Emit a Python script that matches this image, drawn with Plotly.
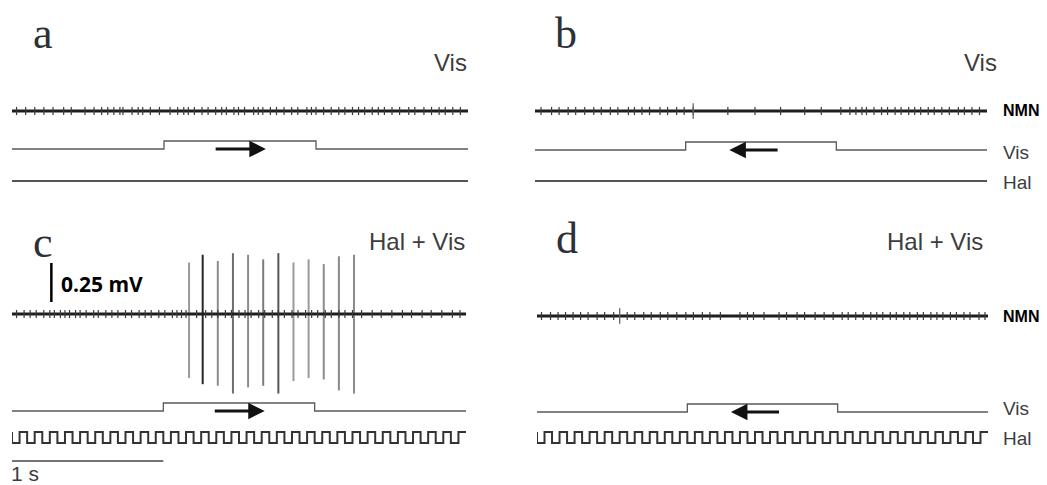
import plotly.graph_objects as go

W, H = 1047, 485
DURATION_S = 3.0

# ---------------- data ----------------
panel_letters = ["a", "b", "c", "d"]
panel_titles = ["Vis", "Vis", "Hal + Vis", "Hal + Vis"]
vis_direction = ["right", "left", "right", "left"]
vis_on_s = [1.0, 1.0, 1.0, 1.0]
vis_off_s = [2.0, 2.0, 2.0, 2.0]
hal_freq_hz = [0, 0, 10, 10]          # 0 = Hal stimulus off (flat trace)
right_labels = ["NMN", "Vis", "Hal"]

# small background deflections on the NMN recording (s)
nmn_ticks_a = [0.03, 0.09, 0.15, 0.21, 0.27, 0.34, 0.39, 0.48, 0.54, 0.59, 0.63, 0.67,
               0.71, 0.73, 0.79, 0.83, 0.86, 0.91, 0.97, 1.04, 1.09, 1.13, 1.16, 1.20,
               1.25, 1.29, 1.34, 1.38, 1.41, 1.46, 1.49, 1.53, 1.59, 1.62, 1.65, 1.70,
               1.74, 1.79, 1.84, 1.88, 1.94, 1.97, 2.00, 2.05, 2.10, 2.15, 2.19, 2.24,
               2.28, 2.32, 2.37, 2.41, 2.45, 2.50, 2.55, 2.61, 2.65, 2.71, 2.76, 2.81,
               2.85, 2.90, 2.95]
nmn_ticks_b = [0.04, 0.11, 0.16, 0.22, 0.27, 0.33, 0.39, 0.44, 0.50, 0.55, 0.62, 0.66,
               0.71, 0.76, 0.83, 0.88, 0.94, 0.99, 1.05, 1.28, 1.46, 1.63, 1.79, 1.90,
               2.03, 2.09, 2.13, 2.17, 2.20, 2.25, 2.30, 2.34, 2.39, 2.43, 2.48, 2.52,
               2.56, 2.61, 2.65, 2.70, 2.75, 2.81, 2.85, 2.90, 2.95]
nmn_ticks_c = [0.03, 0.08, 0.12, 0.16, 0.21, 0.25, 0.28, 0.32, 0.35, 0.38, 0.42, 0.45,
               0.49, 0.54, 0.57, 0.62, 0.66, 0.70, 0.75, 0.79, 0.84, 0.88, 0.92, 0.97,
               1.01, 1.06, 1.09, 1.12, 1.15, 1.22, 1.28, 1.32, 1.36, 1.41, 1.45, 1.50,
               1.54, 1.58, 1.63, 1.67, 1.72, 1.76, 1.80, 1.85, 1.89, 1.94, 1.98, 2.02,
               2.07, 2.11, 2.16, 2.20, 2.25, 2.31, 2.38, 2.44, 2.51, 2.58, 2.64, 2.71,
               2.77, 2.84, 2.91, 2.96]
nmn_ticks_d = [0.03, 0.09, 0.14, 0.19, 0.24, 0.29, 0.34, 0.40, 0.45, 0.51, 0.60, 0.65,
               0.71, 0.76, 0.82, 0.87, 0.93, 0.99, 1.04, 1.10, 1.15, 1.22, 1.35, 1.40,
               1.44, 1.51, 1.61, 1.66, 1.73, 1.78, 1.85, 1.91, 1.97, 2.03, 2.07, 2.12,
               2.17, 2.22, 2.26, 2.30, 2.35, 2.39, 2.44, 2.48, 2.53, 2.57, 2.62, 2.66,
               2.70, 2.75, 2.79, 2.84, 2.88, 2.94, 2.98]
nmn_ticks = [nmn_ticks_a, nmn_ticks_b, nmn_ticks_c, nmn_ticks_d]
nmn_tick_mv = 0.026
nmn_big_ticks = [[], [1.05], [], [0.55]]
nmn_big_tick_mv = 0.05

# large NMN spikes in panel c (Hal + Vis, preferred direction)
spike_times_c = [1.17, 1.26, 1.36, 1.46, 1.56, 1.66, 1.76, 1.86, 1.96, 2.06, 2.16, 2.26]
spike_up_mv_c = [0.33, 0.38, 0.34, 0.39, 0.38, 0.35, 0.39, 0.33, 0.35, 0.32, 0.37, 0.38]
spike_down_mv_c = [0.41, 0.45, 0.46, 0.51, 0.47, 0.46, 0.51, 0.43, 0.41, 0.42, 0.49, 0.51]

scale_bar_mv = 0.25
scale_bar_s = 1.0

# ---------------- geometry & style ----------------
PX_PER_MV = 156.0
geom = [  # pixel geometry of each panel
    dict(x0=12, x1=468, top=85, bottom=200, base=111, vis=149, hal=181),
    dict(x0=535, x1=987, top=85, bottom=200, base=111, vis=150, hal=181),
    dict(x0=12, x1=466, top=240, bottom=485, base=314, vis=411, hal=437.5),
    dict(x0=537, x1=988, top=240, bottom=485, base=316, vis=412, hal=437.5),
]
STEP_PX = 8.0
HAL_HALF_PX = 5.5
spike_shade = ["#9a9a9a", "#262626", "#8c8c8c", "#6e6e6e", "#8c8c8c", "#7a7a7a",
               "#555555", "#9a9a9a", "#9a9a9a", "#8c8c8c", "#888888", "#8c8c8c"]
TEXT_GREY = "#3d3d3d"
SANS = "Liberation Sans, Arial, sans-serif"
SERIF = "Liberation Serif, Times New Roman, serif"

fig = go.Figure()
layout = dict(width=W, height=H, margin=dict(l=0, r=0, t=0, b=0),
              paper_bgcolor="white", plot_bgcolor="white", showlegend=False)
annotations = []


def px_x(p):
    return p / W


def px_y(p):
    return 1 - p / H


for i, g in enumerate(geom):
    k = "" if i == 0 else str(i + 1)
    xa, ya = "x" + k, "y" + k
    layout["xaxis" + k] = dict(domain=[px_x(g["x0"]), px_x(g["x1"])], range=[0, DURATION_S],
                               visible=False, fixedrange=True, anchor=ya)
    layout["yaxis" + k] = dict(domain=[px_y(g["bottom"]), px_y(g["top"])],
                               range=[-(g["bottom"] - g["base"]) / PX_PER_MV,
                                      (g["base"] - g["top"]) / PX_PER_MV],
                               visible=False, fixedrange=True, anchor=xa)
    vis_off = -(g["vis"] - g["base"]) / PX_PER_MV
    hal_off = -(g["hal"] - g["base"]) / PX_PER_MV
    step = STEP_PX / PX_PER_MV

    # large spikes (panel c)
    if i == 2:
        for t, up, dn, col in zip(spike_times_c, spike_up_mv_c, spike_down_mv_c, spike_shade):
            fig.add_trace(go.Scatter(x=[t, t], y=[-dn, up], mode="lines",
                                     line=dict(color=col, width=2), xaxis=xa, yaxis=ya,
                                     hoverinfo="skip"))

    # NMN baseline and small deflections
    fig.add_trace(go.Scatter(x=[0, DURATION_S], y=[0, 0], mode="lines",
                             line=dict(color="#1e1e1e", width=2.8), xaxis=xa, yaxis=ya,
                             hoverinfo="skip"))
    tx, ty = [], []
    for t in nmn_ticks[i]:
        tx += [t, t, None]
        ty += [-nmn_tick_mv, nmn_tick_mv, None]
    fig.add_trace(go.Scatter(x=tx, y=ty, mode="lines", line=dict(color="#3a3a3a", width=1.2),
                             xaxis=xa, yaxis=ya, hoverinfo="skip"))
    bx, by = [], []
    for t in nmn_big_ticks[i]:
        bx += [t, t, None]
        by += [-nmn_big_tick_mv, nmn_big_tick_mv, None]
    if bx:
        fig.add_trace(go.Scatter(x=bx, y=by, mode="lines", line=dict(color="#666", width=1.3),
                                 xaxis=xa, yaxis=ya, hoverinfo="skip"))

    # Vis stimulus
    on, off = vis_on_s[i], vis_off_s[i]
    fig.add_trace(go.Scatter(x=[0, on, on, off, off, DURATION_S],
                             y=[vis_off, vis_off, vis_off + step, vis_off + step, vis_off, vis_off],
                             mode="lines", line=dict(color="#5a5a5a", width=1.3),
                             xaxis=xa, yaxis=ya, hoverinfo="skip"))

    # Hal stimulus
    f = hal_freq_hz[i]
    if f == 0:
        fig.add_trace(go.Scatter(x=[0, DURATION_S], y=[hal_off, hal_off], mode="lines",
                                 line=dict(color="#555", width=2), xaxis=xa, yaxis=ya,
                                 hoverinfo="skip"))
    else:
        half = 0.5 / f
        hi = hal_off + HAL_HALF_PX / PX_PER_MV
        lo = hal_off - HAL_HALF_PX / PX_PER_MV
        n_half = int(round(DURATION_S / half))
        hx, hy = [0], [hi]
        for n in range(n_half):
            lvl = lo if n % 2 == 0 else hi
            hx += [n * half, (n + 1) * half]
            hy += [lvl, lvl]
        fig.add_trace(go.Scatter(x=hx, y=hy, mode="lines", line=dict(color="#333", width=2),
                                 xaxis=xa, yaxis=ya, hoverinfo="skip"))

    # direction arrow
    a_y = vis_off
    tail, head = (on + 0.33, on + 0.67) if vis_direction[i] == "right" else (on + 0.62, on + 0.29)
    annotations.append(dict(x=head, y=a_y, ax=tail, ay=a_y, xref=xa, yref=ya, axref=xa, ayref=ya,
                            text="", showarrow=True, arrowhead=2, arrowsize=1.1, arrowwidth=3,
                            arrowcolor="#111", standoff=0, startstandoff=0))

    # panel letter and title
    letter_x = [43, 566, 43, 567][i]
    letter_y = [34, 34, 242, 238][i]
    annotations.append(dict(x=px_x(letter_x), y=px_y(letter_y), xref="paper", yref="paper",
                            text=panel_letters[i], showarrow=False, xanchor="center",
                            yanchor="middle", font=dict(family=SERIF, size=44, color="#2e3038")))
    title_x = [469, 999, 467, 985][i]
    title_y = [63, 63, 241, 241][i]
    annotations.append(dict(x=px_x(title_x), y=px_y(title_y), xref="paper", yref="paper",
                            text=panel_titles[i], showarrow=False, xanchor="right",
                            yanchor="middle", font=dict(family=SANS, size=24, color=TEXT_GREY)))

    # right-side trace labels (panels b and d)
    if i in (1, 3):
        ys = [g["base"], g["vis"] + 2 if i == 1 else g["vis"] - 4, g["hal"] + 1]
        for j, lab in enumerate(right_labels):
            if j == 0:
                txt, fnt = "<b>" + lab + "</b>", dict(family=SANS, size=16, color="black")
            else:
                txt, fnt = lab, dict(family=SANS, size=19, color=TEXT_GREY)
            annotations.append(dict(x=px_x(1001), y=px_y(ys[j]), xref="paper", yref="paper",
                                    text=txt, showarrow=False, xanchor="left", yanchor="middle",
                                    font=fnt))

    # scale bars (panel c)
    if i == 2:
        sb_t = 0.26
        sb_bottom = 0.077
        fig.add_trace(go.Scatter(x=[sb_t, sb_t], y=[sb_bottom, sb_bottom + scale_bar_mv],
                                 mode="lines", line=dict(color="black", width=2.5),
                                 xaxis=xa, yaxis=ya, hoverinfo="skip"))
        annotations.append(dict(x=0.31, y=sb_bottom + scale_bar_mv * 0.46, xref=xa, yref=ya,
                                text="<b>%g mV</b>" % scale_bar_mv, showarrow=False,
                                xanchor="left", yanchor="middle",
                                font=dict(family="Open Sans, sans-serif", size=21, color="black")))
        hb_y = -(461 - g["base"]) / PX_PER_MV
        fig.add_trace(go.Scatter(x=[0, scale_bar_s], y=[hb_y, hb_y], mode="lines",
                                 line=dict(color="#444", width=1.5), xaxis=xa, yaxis=ya,
                                 hoverinfo="skip"))
        annotations.append(dict(x=px_x(10), y=0, xref="paper", yref="paper",
                                text="%g s" % scale_bar_s, showarrow=False, xanchor="left",
                                yanchor="bottom", borderpad=0, yshift=-1,
                                font=dict(family=SANS, size=21, color=TEXT_GREY)))

layout["annotations"] = annotations
fig.update_layout(**layout)
fig.write_html("out.html", config={"displayModeBar": False},
               post_script="document.body.style.margin='0';document.body.style.padding='0';")
